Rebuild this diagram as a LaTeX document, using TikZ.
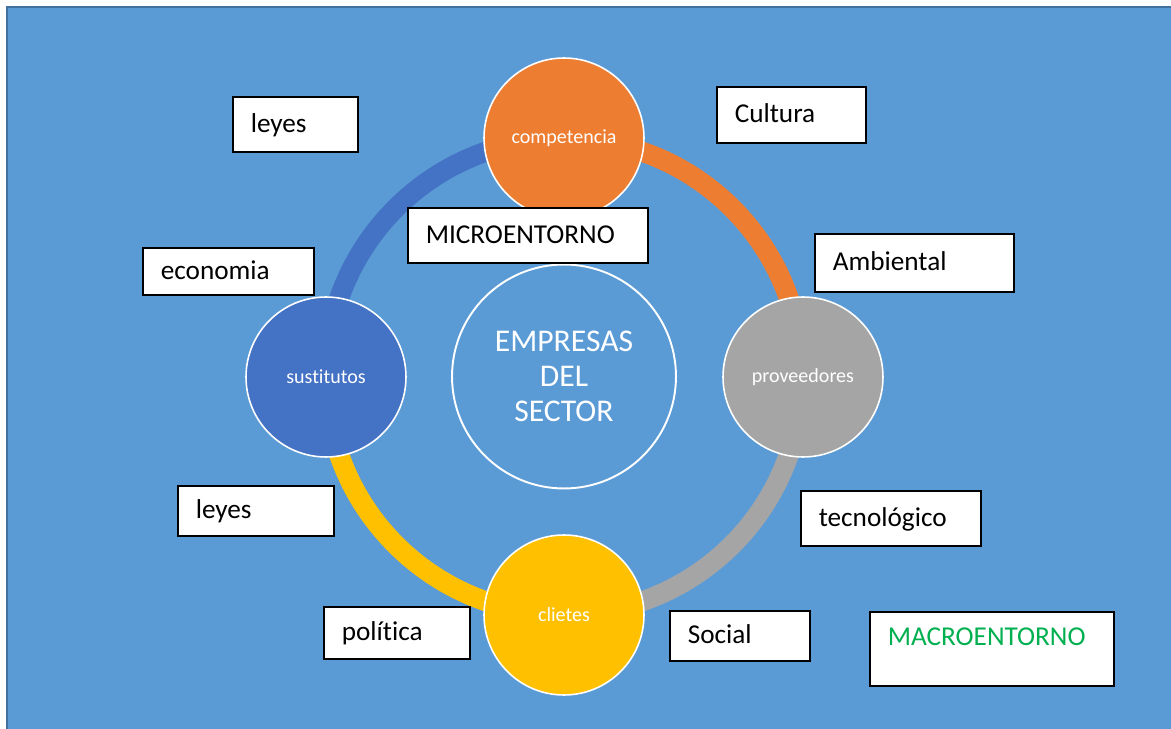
\documentclass[tikz,border=0pt]{standalone}
\usepackage{fontspec}
\setmainfont{Carlito}[Ligatures=NoCommon]

\definecolor{fondo}{HTML}{5B9BD5}
\definecolor{borde}{HTML}{41719C}
\definecolor{naranja}{HTML}{ED7D31}
\definecolor{gris}{HTML}{A5A5A5}
\definecolor{amarillo}{HTML}{FFC000}
\definecolor{azul}{HTML}{4472C4}
\definecolor{verde}{HTML}{00B050}

\begin{document}
\begin{tikzpicture}[x=0.02cm,y=0.02cm,
	circulo/.style={circle,draw=white,line width=0.9pt,minimum size=3.2cm,inner sep=0pt,text=white,font=\fontsize{11.4}{13}\selectfont},
	caja/.style={draw=black,line width=0.9pt,fill=white,anchor=north west,inner xsep=0.36cm,inner ysep=0pt,align=left,text height=12pt,text depth=3pt,font=\fontsize{15.5}{18}\selectfont}]
	\newcommand{\radio}{4.76cm}
	\clip (0,0) rectangle (1171,728);
	\filldraw[fill=fondo,draw=borde,line width=0.6pt] (7,-10) rectangle (1190,721); %fondo
	\coordinate (ctr) at (564,351.5); %centro
	\foreach \a/\c in {90/naranja,0/gris,-90/amarillo,180/azul}{ %anillo
		\draw[\c,line width=0.4cm] (ctr) ++(\a:\radio) arc[start angle=\a,end angle=\a-90,radius=\radio];
	}
	\node[circulo,fill=naranja] (comp) at (564,590) {competencia};
	\node[circulo,fill=gris] (prov) at (803,351) {proveedores};
	\node[circulo,fill=amarillo] (clie) at (564,113) {clietes};
	\node[circulo,fill=azul] (sust) at (326,351) {sustitutos};
	\node[circle,draw=white,line width=1.1pt,minimum size=4.48cm,align=center,text=white,font=\fontsize{18}{20}\selectfont] (emp) at (ctr) {EMPRESAS\\DEL\\SECTOR}; %centro
	% cajas
	\node[caja,text width=1.78cm,minimum height=1.1cm] (leyesA) at (232,632) {leyes};
	\node[caja,text width=2.26cm,minimum height=1.12cm] (cult) at (716,642) {Cultura};
	\node[caja,text width=4.08cm,minimum height=1.1cm] (micro) at (407,521) {MICROENTORNO};
	\node[caja,text width=3.26cm,minimum height=1.16cm] (amb) at (814,495) {Ambiental};
	\node[caja,text width=2.70cm,minimum height=0.94cm] (econ) at (142,481) {economia};
	\node[caja,text width=2.40cm,minimum height=1.0cm] (leyesB) at (177,243) {leyes};
	\node[caja,text width=2.88cm,minimum height=1.1cm] (tecn) at (800,238) {tecnológico};
	\node[caja,text width=2.20cm,minimum height=1.04cm] (poli) at (323,122) {política};
	\node[caja,text width=2.08cm,minimum height=1.0cm] (soc) at (669,118) {Social};
	\node[caja,text width=4.16cm,minimum height=1.48cm,text depth=15.4pt,text=verde] (macro) at (869,117) {MACROENTORNO};
\end{tikzpicture}
\end{document}
